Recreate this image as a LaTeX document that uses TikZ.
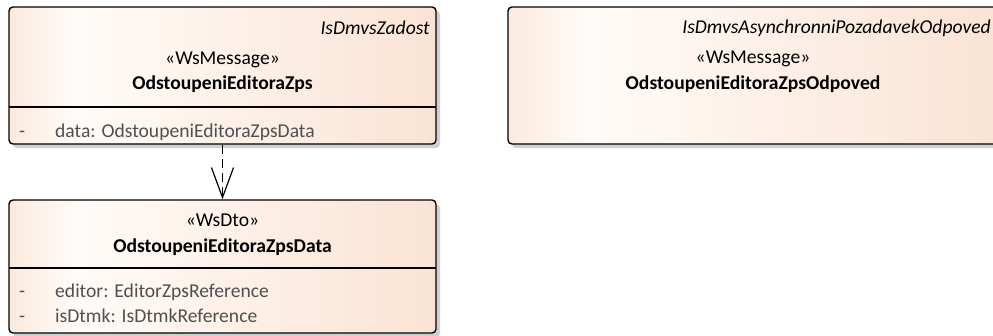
\documentclass[tikz,border=0pt]{standalone}
\usepackage{fontspec}
\setmainfont{Carlito}
\usetikzlibrary{arrows.meta,calc}
\definecolor{peachL}{RGB}{251,234,222}
\definecolor{peachW}{RGB}{255,251,248}
\definecolor{peachR}{RGB}{250,227,212}
\definecolor{shadowgray}{RGB}{208,208,208}
\definecolor{attrgray}{RGB}{80,80,80}
\pgfdeclarehorizontalshading{umlfill}{100bp}{color(0bp)=(peachL); color(25bp)=(peachL); color(33bp)=(peachW); color(75bp)=(peachR); color(100bp)=(peachR)}
\tikzset{
  umlbox/.style={draw=black, line width=1.4pt, rounded corners=4pt, shading=umlfill, inner sep=0pt},
  umlshadow/.style={fill=shadowgray, rounded corners=4pt},
  sep/.style={draw=black, line width=1.2pt},
  txt/.style={font=\fontsize{19.6}{23}\selectfont, inner sep=0pt, anchor=base},
  ital/.style={txt, font=\fontsize{19.6}{23}\selectfont\itshape, anchor=base east},
  boldtxt/.style={txt, font=\fontsize{19.6}{23}\selectfont\bfseries},
  attr/.style={txt, text=attrgray, anchor=base west},
  dep/.style={draw=black, line width=1.2pt, dash pattern=on 9pt off 5pt, -{Straight Barb[length=30pt,width=22pt,line width=1.2pt]}}
}
\begin{document}
\begin{tikzpicture}[x=1pt,y=-1pt]
\useasboundingbox (0,0) rectangle (993,335);
% shadows
\fill[umlshadow] (13,11) rectangle (440,148);
\fill[umlshadow] (13,204) rectangle (440,337);
\fill[umlshadow] (512,11) rectangle (1002,148);
% boxes
\node[umlbox, minimum width=427pt, minimum height=137pt] (b1) at (222.5,75.5) {};
\node[umlbox, minimum width=427pt, minimum height=133pt] (b2) at (222.5,266.5) {};
\node[umlbox, minimum width=490pt, minimum height=137pt] (b3) at (753,75.5) {};
% separators
\coordinate (s1l) at (9,107); \coordinate (s1r) at (436,107);
\draw[sep] (s1l) -- (s1r);
\coordinate (s2l) at (9,268); \coordinate (s2r) at (436,268);
\draw[sep] (s2l) -- (s2r);
% box 1 texts
\node[ital] (b1i) at (430,34) {IsDmvsZadost};
\node[txt] (b1s) at (222.5,64) {«WsMessage»};
\node[boldtxt] (b1n) at (222.5,89) {OdstoupeniEditoraZps};
\node[attr] (b1d) at (19,137) {-};
\node[attr] (b1a) at (55,137) {data: OdstoupeniEditoraZpsData};
% box 2 texts
\node[txt] (b2s) at (222.5,226) {«WsDto»};
\node[boldtxt] (b2n) at (222.5,252) {OdstoupeniEditoraZpsData};
\node[attr] (b2d1) at (19,297) {-};
\node[attr] (b2a1) at (55,297) {editor: EditorZpsReference};
\node[attr] (b2d2) at (19,322) {-};
\node[attr] (b2a2) at (55,322) {isDtmk: IsDtmkReference};
% box 3 texts
\node[ital] (b3i) at (991,33) {IsDmvsAsynchronniPozadavekOdpoved};
\node[txt] (b3s) at (753,63) {«WsMessage»};
\node[boldtxt] (b3n) at (753,89) {OdstoupeniEditoraZpsOdpoved};
% dependency
\draw[dep] (b1.south) -- (b2.north);
\end{tikzpicture}
\end{document}
